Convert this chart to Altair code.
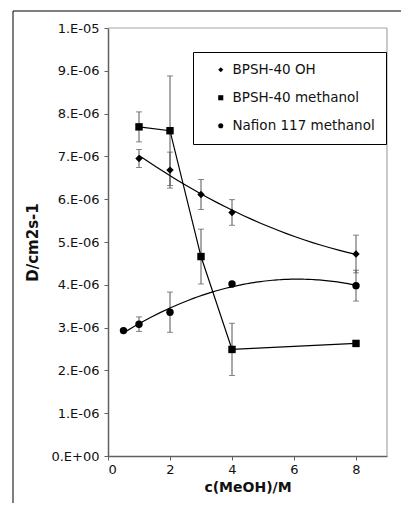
import altair as alt
import pandas as pd

series_names = ["BPSH-40 OH", "BPSH-40 methanol", "Nafion 117 methanol"]
series_shapes = ["diamond", "square", "circle"]

oh_x = [1, 2, 3, 4, 8]
oh_y = [6.95e-6, 6.68e-6, 6.11e-6, 5.69e-6, 4.72e-6]
oh_err = [0.21e-6, 0.42e-6, 0.35e-6, 0.30e-6, 0.44e-6]

bm_x = [1, 2, 3, 4, 8]
bm_y = [7.69e-6, 7.60e-6, 4.66e-6, 2.49e-6, 2.63e-6]
bm_err = [0.35e-6, 1.28e-6, 0.64e-6, 0.61e-6, 0.04e-6]

nf_x = [0.5, 1, 2, 4, 8]
nf_y = [2.93e-6, 3.08e-6, 3.36e-6, 4.02e-6, 3.98e-6]
nf_err = [0.0, 0.17e-6, 0.47e-6, 0.05e-6, 0.36e-6]

x_ticks = [0, 2, 4, 6, 8]
y_ticks = [i * 1e-6 for i in range(11)]

rows = []
for name, xs, ys, es in [
    (series_names[0], oh_x, oh_y, oh_err),
    (series_names[1], bm_x, bm_y, bm_err),
    (series_names[2], nf_x, nf_y, nf_err),
]:
    for xv, yv, ev in zip(xs, ys, es):
        rows.append({"series": name, "x": xv, "y": yv, "lo": yv - ev, "hi": yv + ev, "err": ev})
df = pd.DataFrame(rows)

FONT = "DejaVu Sans"

xscale = alt.Scale(domain=[0, 9], nice=False)
yscale = alt.Scale(domain=[0, 1e-5], nice=False)

x_axis = alt.Axis(values=x_ticks, title="c(MeOH)/M", grid=False, tickSize=4,
                  labelPadding=3, labelFontSize=13, labelFont=FONT, labelColor="#111",
                  titleFont=FONT, titleFontSize=14, titleFontWeight="bold", titleColor="#111",
                  titlePadding=4, domainColor="#606060", domainWidth=1.5, tickColor="#606060")
y_axis = alt.Axis(values=y_ticks, title="D/cm2s-1", grid=False, tickSize=4,
                  labelExpr="datum.value == 0 ? '0.E+00' : (round(datum.value*1e6) >= 10 ? '1.E-05' : round(datum.value*1e6) + '.E-06')",
                  labelPadding=5, labelFontSize=13, labelFont=FONT, labelColor="#111",
                  titleFont=FONT, titleFontSize=15, titleFontWeight="bold", titleColor="#111",
                  titlePadding=10, domainColor="#606060", domainWidth=1.5, tickColor="#606060")

base = alt.Chart(df)

err_rules = base.transform_filter("datum.err > 0").mark_rule(color="#555", strokeWidth=1).encode(
    x=alt.X("x:Q", scale=xscale, axis=x_axis),
    y=alt.Y("lo:Q", scale=yscale, axis=y_axis),
    y2="hi:Q",
)
err_top = base.transform_filter("datum.err > 0").mark_tick(color="#555", orient="horizontal", size=6, thickness=1).encode(
    x="x:Q", y="hi:Q")
err_bot = base.transform_filter("datum.err > 0").mark_tick(color="#555", orient="horizontal", size=6, thickness=1).encode(
    x="x:Q", y="lo:Q")

bm_line = base.transform_filter(alt.datum.series == series_names[1]).mark_line(color="black", strokeWidth=1.2).encode(
    x="x:Q", y="y:Q", order="x:Q")

trend = base.transform_filter(alt.datum.series != series_names[1]).transform_regression(
    "x", "y", groupby=["series"], method="poly", order=2
).mark_line(color="black", strokeWidth=1.2).encode(x="x:Q", y="y:Q", detail="series:N")

points = base.mark_point(filled=True, color="black", opacity=1, size=55).encode(
    x="x:Q", y="y:Q",
    shape=alt.Shape("series:N", scale=alt.Scale(domain=series_names, range=series_shapes),
                    legend=alt.Legend(orient="none", legendX=85, legendY=24, title=None,
                                      strokeColor="black", fillColor="white", padding=11,
                                      symbolOffset=10, rowPadding=13, symbolSize=26,
                                      symbolFillColor="black", symbolStrokeColor="black",
                                      labelFont=FONT, labelFontSize=13.5, labelColor="#111",
                                      labelOffset=5, labelLimit=300)),
)

one = alt.Chart(pd.DataFrame({"a": [0]}))
top_border = one.mark_rule(color="#a6a6a6", strokeWidth=1.2).encode(
    x=alt.value(0), x2=alt.value("width"), y=alt.value(0))
right_border = one.mark_rule(color="#a6a6a6", strokeWidth=1.2).encode(
    x=alt.value("width"), y=alt.value(0), y2=alt.value("height"))
frame_top = one.mark_rule(color="black", strokeWidth=1).encode(
    x=alt.value(-95), x2=alt.value(293), y=alt.value(-17))
frame_left = one.mark_rule(color="black", strokeWidth=1).encode(
    x=alt.value(-95), y=alt.value(-17), y2=alt.value(475))

chart = alt.layer(
    top_border, right_border, frame_top, frame_left,
    err_rules, err_top, err_bot, bm_line, trend, points
).properties(
    width=279, height=428,
    padding={"left": 100, "top": 20, "right": 14, "bottom": 47},
    autosize=alt.AutoSizeParams(type="none"),
    background="white",
).configure_view(stroke=None)

chart.save("out.html", embed_options={"renderer": "svg", "actions": False})
